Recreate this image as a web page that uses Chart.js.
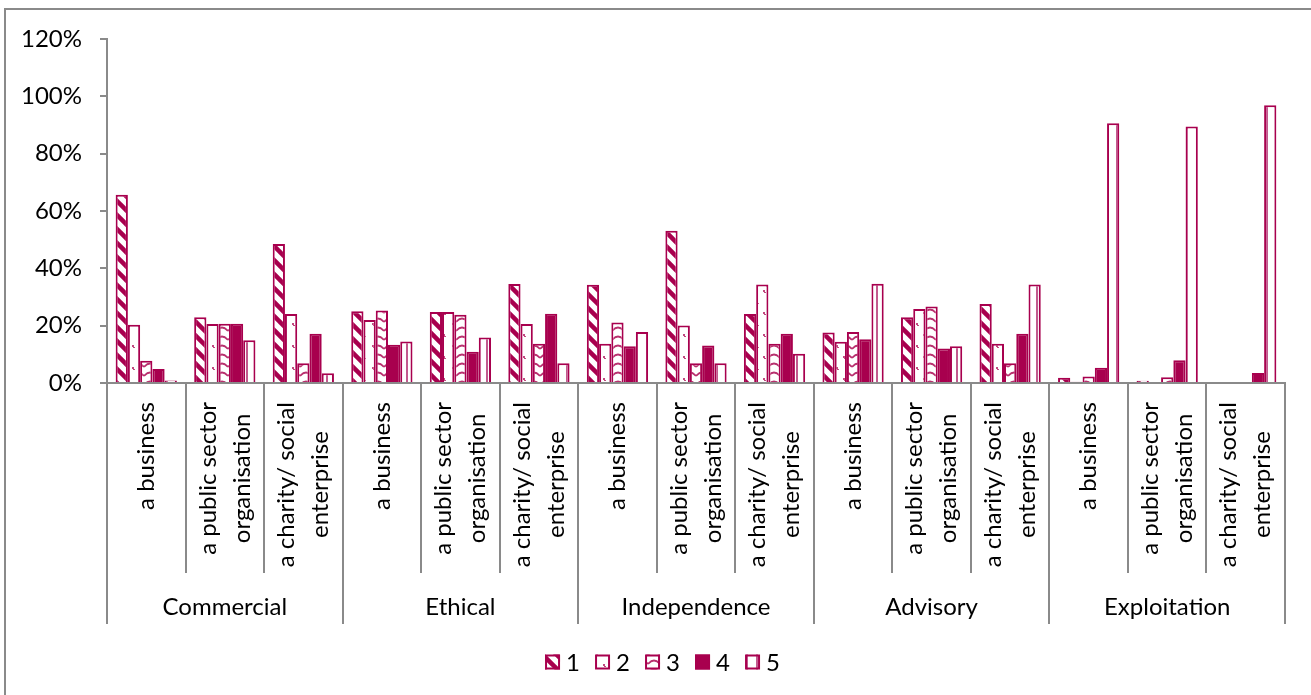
<!DOCTYPE html>
<html>
<head>
<meta charset="utf-8">
<title>Perceived attributes by organisation type</title>
<script src="https://cdn.jsdelivr.net/npm/chart.js@4.4.1/dist/chart.umd.min.js"></script>
<style>
  html, body { margin: 0; padding: 0; background: #fff; overflow: hidden; }
  canvas { display: block; }
</style>
</head>
<body>
<canvas id="chart" width="1311" height="695"></canvas>
<script>
// ---- data -------------------------------------------------------------
const groups = ['Commercial', 'Ethical', 'Independence', 'Advisory', 'Exploitation'];
const orgTypes = [['a business'], ['a public sector', 'organisation'], ['a charity/ social', 'enterprise']];
const seriesNames = ['1', '2', '3', '4', '5'];

// percentages, one value per (group, organisation type) pair
const rating1 = [65.7, 22.9, 48.5, 25.0, 24.8, 34.5, 34.3, 53.1, 24.1, 17.6, 22.9, 27.6, 1.8, 0.8, 0];
const rating2 = [20.3, 20.6, 24.1, 22.0, 24.8, 20.6, 13.7, 20.1, 34.4, 14.4, 25.8, 13.7, 0.4, 0, 0];
const rating3 = [7.8, 20.7, 6.9, 25.3, 23.8, 13.7, 21.1, 6.9, 13.7, 17.8, 26.7, 6.9, 2.3, 2.0, 0];
const rating4 = [4.9, 20.7, 17.2, 13.3, 10.9, 24.2, 12.8, 13.1, 17.2, 15.3, 12.0, 17.2, 5.3, 7.9, 3.5];
const rating5 = [0.9, 14.9, 3.4, 14.5, 15.9, 6.9, 17.8, 6.9, 10.2, 34.6, 12.8, 34.4, 90.6, 89.5, 96.9];

const yTicks = [0, 20, 40, 60, 80, 100, 120];

// ---- styling ----------------------------------------------------------
const INK = '#A8004E';
const GRID = '#8a8a8a';
const FONT = 'Lato, "Open Sans", sans-serif';
const FS = 24;

function tile(w, h, draw) {
  const c = document.createElement('canvas');
  c.width = w; c.height = h;
  const g = c.getContext('2d');
  g.fillStyle = '#fff';
  g.fillRect(0, 0, w, h);
  draw(g, w, h);
  return g.createPattern(c, 'repeat');
}

// wide downward diagonal
const fill1 = tile(14, 14, (g, w, h) => {
  g.strokeStyle = INK; g.lineWidth = 4.5;
  for (const o of [-w, 0, w]) {
    g.beginPath(); g.moveTo(o - 2, -2); g.lineTo(o + w + 2, h + 2); g.stroke();
  }
});
// sparse confetti
const fill2 = tile(16, 22, (g) => {
  g.fillStyle = '#c04a80';
  g.fillRect(11, 4, 2, 2); g.fillRect(12, 6, 2, 1);
  g.fillRect(4, 15, 2, 2); g.fillRect(5, 17, 2, 1);
});
// wave
const fill3 = tile(12, 9, (g) => {
  g.strokeStyle = '#b8306e'; g.lineWidth = 1.8;
  g.beginPath(); g.moveTo(0, 7); g.quadraticCurveTo(6, 0, 12, 7); g.stroke();
});
// wide vertical
const fill5 = tile(10, 4, (g) => {
  g.fillStyle = '#c25a8e';
  g.fillRect(6, 0, 2, 4);
});

const fills = [fill1, fill2, fill3, INK, fill5];
const seriesData = [rating1, rating2, rating3, rating4, rating5];

const labels = [];
groups.forEach(gName => orgTypes.forEach(t => labels.push(t.join(' '))));

// ---- multi-level category axis, frame and legend ----------------------
const decor = {
  id: 'decor',
  beforeDraw(chart) {
    const { ctx } = chart;
    ctx.save();
    ctx.strokeStyle = GRID; ctx.lineWidth = 2;
    ctx.strokeRect(5, 9, chart.width + 20, chart.height + 20);
    ctx.restore();
  },
  afterDraw(chart) {
    const { ctx } = chart;
    const xs = chart.scales.x;
    const n = labels.length;
    const step = xs.width / n;
    const y0 = chart.chartArea.bottom;

    ctx.save();
    ctx.strokeStyle = GRID; ctx.lineWidth = 2;
    for (let k = 0; k <= n; k++) {
      const bx = Math.round(xs.left + k * step);
      const yEnd = k % orgTypes.length === 0 ? y0 + 241 : y0 + 190;
      ctx.beginPath(); ctx.moveTo(bx, y0); ctx.lineTo(bx, yEnd); ctx.stroke();
    }

    ctx.fillStyle = '#000';
    ctx.font = `${FS}px ${FONT}`;
    ctx.textAlign = 'center';
    ctx.textBaseline = 'middle';
    const lineStep = 34;
    for (let i = 0; i < n; i++) {
      const cx = xs.getPixelForValue(i);
      const lines = orgTypes[i % orgTypes.length];
      const w = Math.max(...lines.map(t => ctx.measureText(t).width));
      ctx.save();
      ctx.translate(cx, y0 + 19 + w / 2);
      ctx.rotate(-Math.PI / 2);
      lines.forEach((t, j) => ctx.fillText(t, 0, (j - (lines.length - 1) / 2) * lineStep));
      ctx.restore();
    }

    groups.forEach((gName, gi) => {
      const cx = xs.left + (gi * orgTypes.length + orgTypes.length / 2) * step;
      ctx.fillText(gName, cx, y0 + 224);
    });

    // legend
    const box = 15, gap = 6, itemStep = 50;
    const ly = y0 + 279;
    const lastW = ctx.measureText(seriesNames[seriesNames.length - 1]).width;
    const total = itemStep * (seriesNames.length - 1) + box + gap + lastW;
    let lx = (chart.width + 14) / 2 - total / 2;
    ctx.textAlign = 'left';
    seriesNames.forEach((name, i) => {
      ctx.fillStyle = fills[i];
      ctx.fillRect(lx, ly - box / 2, box, box);
      ctx.strokeStyle = INK; ctx.lineWidth = 2;
      ctx.strokeRect(lx + 1, ly - box / 2 + 1, box - 2, box - 2);
      ctx.fillStyle = '#000';
      ctx.fillText(name, lx + box + gap, ly + 1);
      lx += itemStep;
    });
    ctx.restore();
  }
};

new Chart(document.getElementById('chart'), {
  type: 'bar',
  data: {
    labels,
    datasets: seriesNames.map((name, i) => ({
      label: name,
      data: seriesData[i],
      backgroundColor: fills[i],
      borderColor: INK,
      borderWidth: 2,
      barPercentage: 1,
      categoryPercentage: 0.78
    }))
  },
  options: {
    responsive: false,
    animation: false,
    devicePixelRatio: 1,
    layout: { padding: { top: 39, right: 26, bottom: 0, left: 0 } },
    plugins: { legend: { display: false }, tooltip: { enabled: false } },
    scales: {
      x: {
        z: 1,
        grid: { display: false },
        ticks: { display: false },
        border: { display: true, color: GRID, width: 2 },
        afterFit: s => { s.height = 312; }
      },
      y: {
        min: 0,
        max: 120,
        afterBuildTicks: s => { s.ticks = yTicks.map(v => ({ value: v })); },
        grid: { drawOnChartArea: false, drawTicks: true, tickLength: 7, color: GRID, lineWidth: 2 },
        border: { display: true, color: GRID, width: 2 },
        ticks: {
          padding: 18,
          color: '#000',
          font: { family: FONT, size: FS },
          callback: v => v + '%'
        },
        afterFit: s => { s.width = 107; }
      }
    }
  },
  plugins: [decor]
});
</script>
</body>
</html>
